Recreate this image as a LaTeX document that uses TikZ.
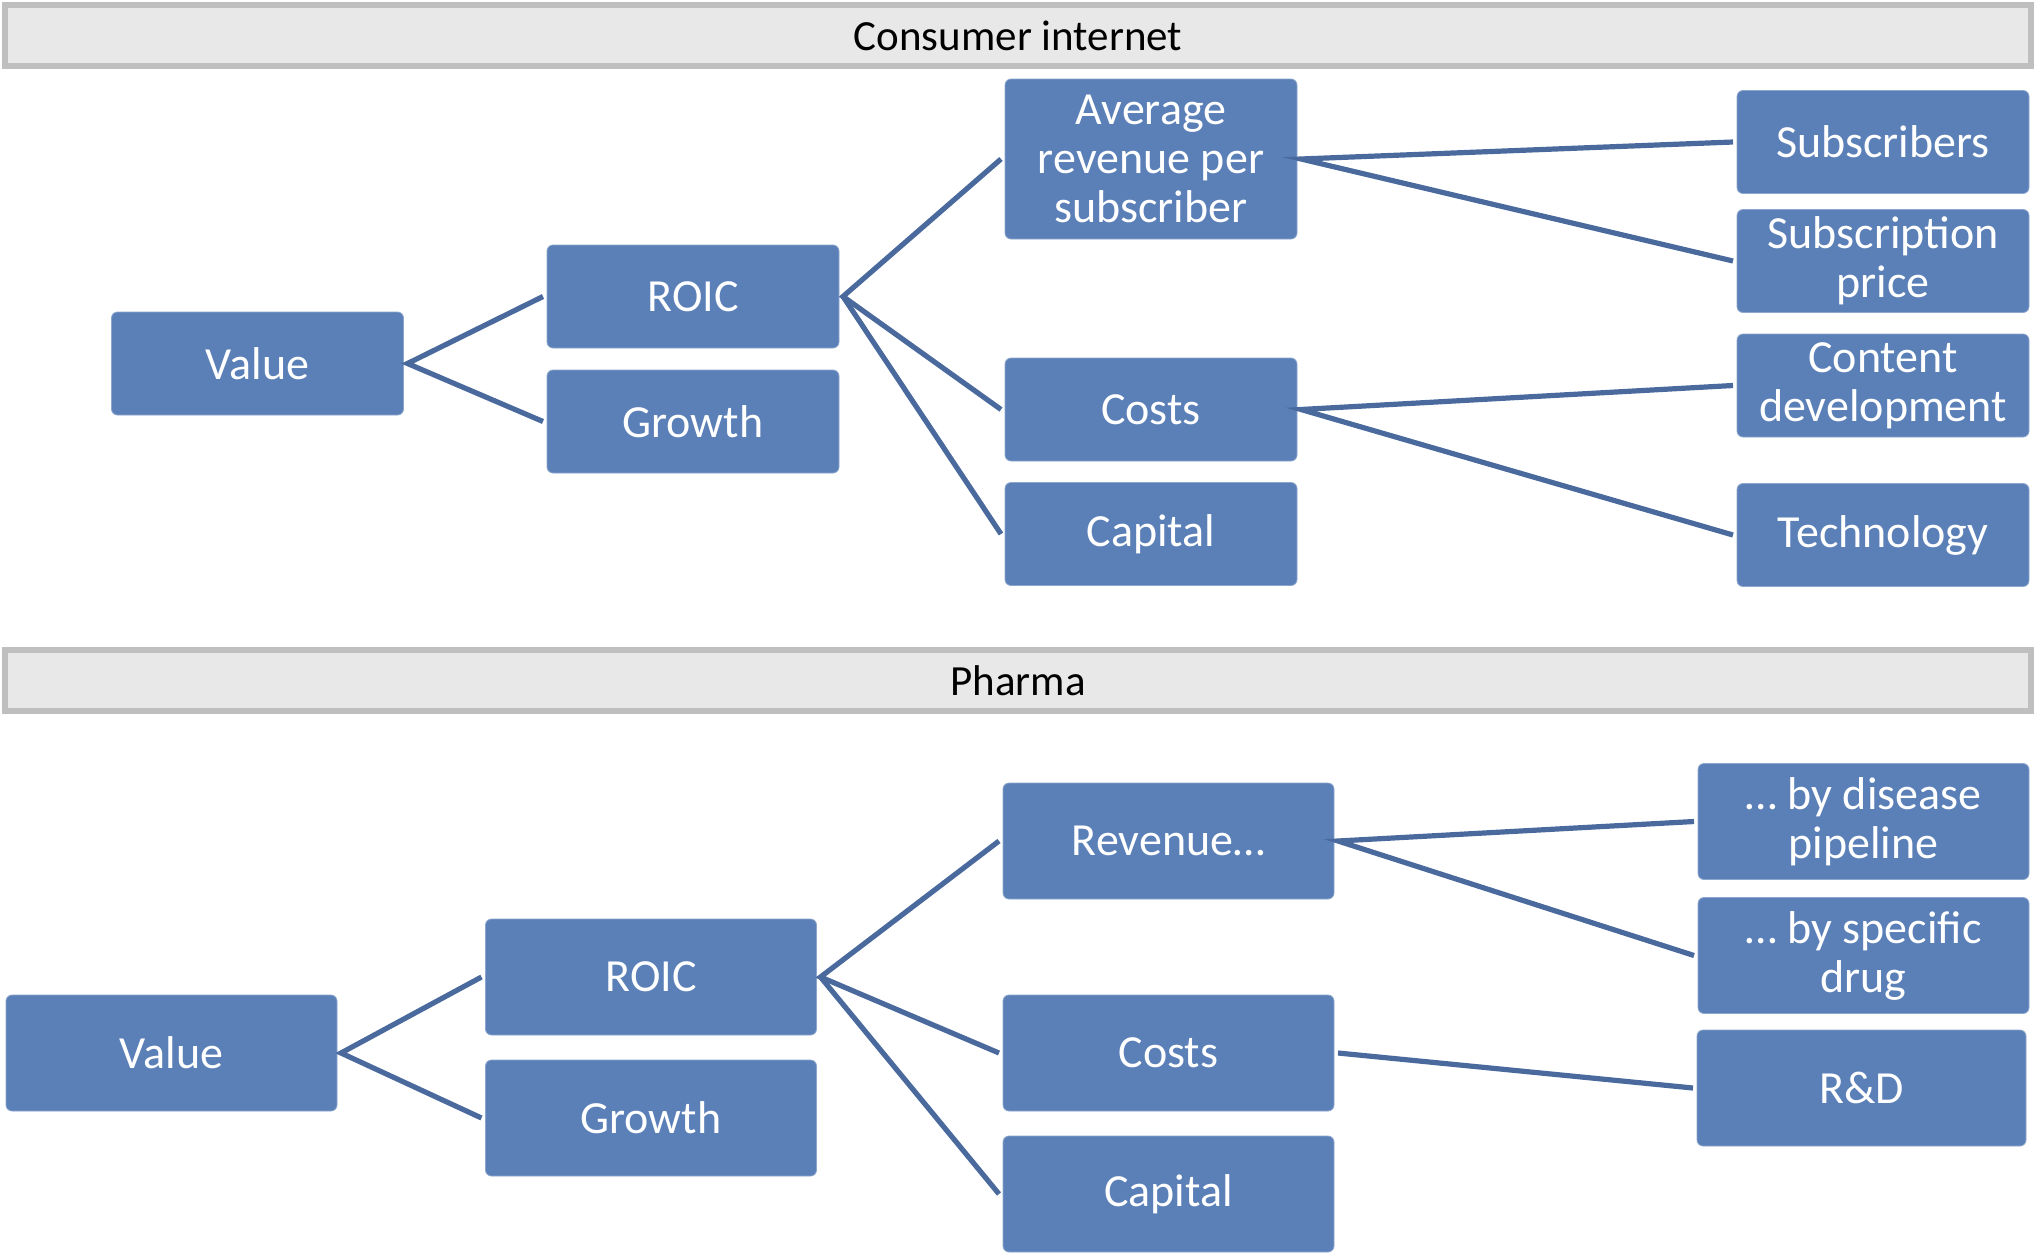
\documentclass[tikz,border=0pt]{standalone}
\usepackage{fontspec}
\setmainfont{Carlito}
\definecolor{boxblue}{HTML}{5B80B8}
\definecolor{linkblue}{HTML}{4A6A9E}
\definecolor{hdrfill}{HTML}{E8E8E8}
\definecolor{hdrline}{HTML}{BFBFBF}
\begin{document}
\begin{tikzpicture}[x=0.5pt,y=-0.5pt,
  box/.style={rectangle, rounded corners=3pt, fill=boxblue, draw=boxblue!70!white, line width=0.4pt,
    text=white, align=center, inner sep=2pt, outer sep=2pt,
    font=\fontsize{23}{24.5}\selectfont},
  topbox/.style={box, minimum width=146pt, minimum height=51.5pt},
  botbox/.style={box, minimum width=165.5pt, minimum height=58pt},
  hdr/.style={rectangle, fill=hdrfill, draw=hdrline, line width=3pt,
    minimum width=1013pt, minimum height=30.5pt, inner sep=0pt,
    font=\fontsize{21.5}{23}\selectfont},
  link/.style={draw=linkblue, line width=2.6pt, miter limit=20}
]
\useasboundingbox (0,0) rectangle (2036,1253);

% headers
\node[hdr] (h1) at (1018,35.5) {Consumer internet};
\node[hdr] (h2) at (1018,680.5) {Pharma};

% top tree
\node[topbox] (tv) at (257.5,363.5) {Value};
\node[topbox] (troic) at (693,296.5) {ROIC};
\node[topbox] (tgrowth) at (693,421.5) {Growth};
\node[topbox, minimum height=80pt] (tarps) at (1151,159) {Average\\revenue per\\subscriber};
\node[topbox] (tcosts) at (1151,409.5) {Costs};
\node[topbox] (tcap) at (1151,534) {Capital};
\node[topbox] (tsubs) at (1883,142) {Subscribers};
\node[topbox] (tprice) at (1883,261) {Subscription\\price};
\node[topbox] (tcontent) at (1883,385.5) {Content\\development};
\node[topbox] (ttech) at (1883,535) {Technology};

\draw[link] (troic.west) -- (tv.east) -- (tgrowth.west);
\draw[link] (tarps.west) -- (troic.east) -- (tcosts.west);
\draw[link] (troic.east) -- (tcap.west);
\draw[link] (tsubs.west) -- (tarps.east) -- (tprice.west);
\draw[link] (tcontent.west) -- (tcosts.east) -- (ttech.west);

% bottom tree
\node[botbox] (bv) at (171.5,1053) {Value};
\node[botbox] (broic) at (651,977) {ROIC};
\node[botbox] (bgrowth) at (651,1118) {Growth};
\node[botbox] (brev) at (1168.5,841) {Revenue…};
\node[botbox] (bcosts) at (1168.5,1053) {Costs};
\node[botbox] (bcap) at (1168.5,1194) {Capital};
\node[botbox] (bdis) at (1863.5,821.5) {… by disease\\pipeline};
\node[botbox] (bdrug) at (1863.5,955.5) {… by specific\\drug};
\node[botbox, minimum width=164.5pt] (brd) at (1861.5,1088) {R\&D};

\draw[link] (broic.west) -- (bv.east) -- (bgrowth.west);
\draw[link] (brev.west) -- (broic.east) -- (bcosts.west);
\draw[link] (broic.east) -- (bcap.west);
\draw[link] (bdis.west) -- (brev.east) -- (bdrug.west);
\draw[link] (bcosts.east) -- (brd.west);
\end{tikzpicture}
\end{document}
